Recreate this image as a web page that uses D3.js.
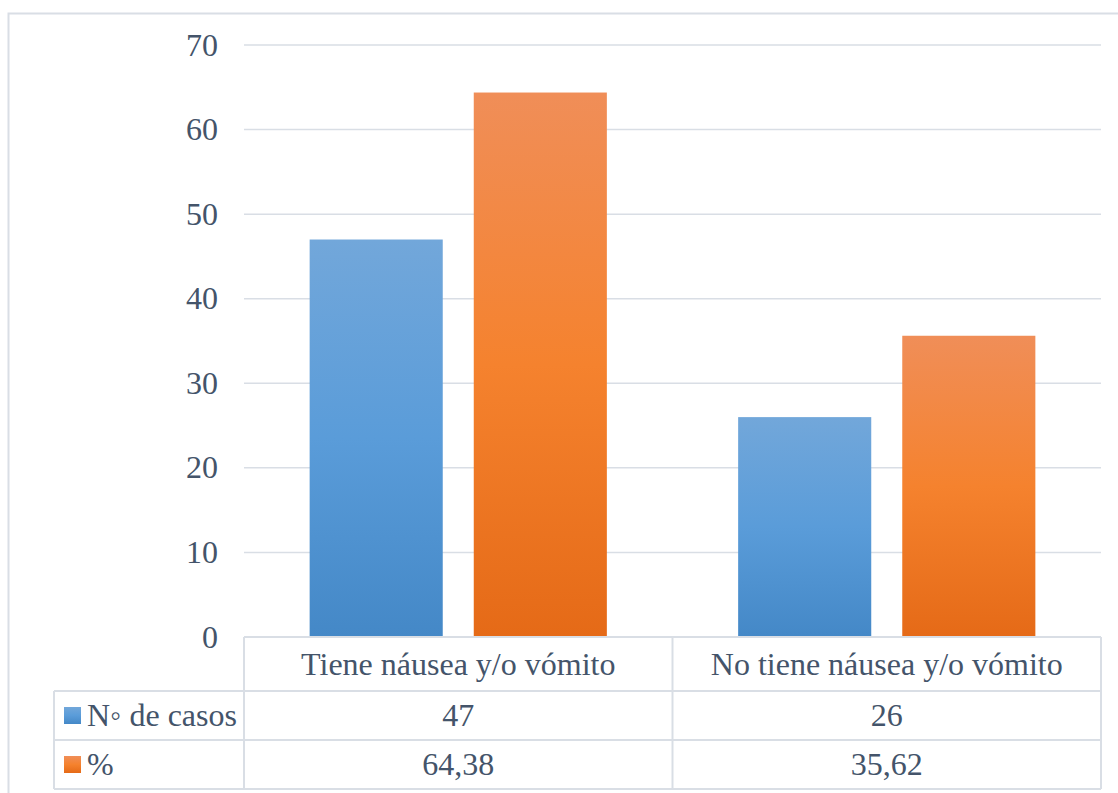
<!DOCTYPE html>
<html><head><meta charset="utf-8">
<script src="https://cdn.jsdelivr.net/npm/d3@7"></script>
<style>html,body{margin:0;padding:0;background:#fff;} svg{display:block;}</style>
</head><body>
<script>
const categories = ["Tiene náusea y/o vómito", "No tiene náusea y/o vómito"];
const seriesNames = ["N◦ de casos", "%"];
const casos = [47, 26];
const porcentaje = [64.38, 35.62];
const tableLabels = [["47", "26"], ["64,38", "35,62"]];
const yTicks = [0, 10, 20, 30, 40, 50, 60, 70];

(function () {
const W = 1118, H = 793;
const svg = d3.select("body").append("svg").attr("width", W).attr("height", H);
const defs = svg.append("defs");
function grad(id, stops) {
  const g = defs.append("linearGradient").attr("id", id).attr("x1", 0).attr("y1", 0).attr("x2", 0).attr("y2", 1);
  stops.forEach(s => g.append("stop").attr("offset", s[0]).attr("stop-color", s[1]));
}
grad("gBlue", [[0, "#72a7da"], [0.5, "#5a9cd9"], [1, "#4488c7"]]);
grad("gOrange", [[0, "#f08e58"], [0.5, "#f5822e"], [1, "#e56a17"]]);
const fills = ["url(#gBlue)", "url(#gOrange)"];

const textColor = "#44546a";
const lineColor = "#d9dee5";
const fs = 32;
const ff = '"Liberation Serif", "Times New Roman", serif';

svg.append("rect").attr("x", 8.5).attr("y", 13.5).attr("width", 1130).attr("height", 800)
  .attr("fill", "none").attr("stroke", lineColor).attr("stroke-width", 2);

const pLeft = 244, pRight = 1101, pTop = 45, pBottom = 637;
const x = d3.scaleBand().domain(categories).range([pLeft, pRight]).paddingInner(0).paddingOuter(0);
const y = d3.scaleLinear().domain([0, 70]).range([pBottom, pTop]);
const xs = d3.scaleBand().domain([0, 1]).range([0, x.bandwidth()]).paddingInner(0.189).paddingOuter(0.40);

svg.append("g").selectAll("line").data(yTicks.filter(d => d > 0)).join("line")
  .attr("x1", pLeft).attr("x2", pRight).attr("y1", d => y(d)).attr("y2", d => y(d))
  .attr("stroke", lineColor).attr("stroke-width", 1.5);

svg.append("g").selectAll("text").data(yTicks).join("text")
  .attr("x", 218).attr("y", d => y(d)).attr("dy", "0.33em").attr("text-anchor", "end")
  .style("font-family", ff).attr("font-size", fs).attr("fill", textColor).text(d => d);

const series = [casos, porcentaje];
series.forEach((vals, si) => {
  svg.append("g").selectAll("rect").data(categories).join("rect")
    .attr("x", (c) => x(c) + xs(si)).attr("width", xs.bandwidth())
    .attr("y", (c, i) => y(vals[i])).attr("height", (c, i) => y(0) - y(vals[i]))
    .attr("fill", fills[si]);
});

const rowY = [637, 691, 740, 789];
const legendLeft = 54;
const tg = svg.append("g").attr("stroke", lineColor).attr("stroke-width", 2).attr("fill", "none");
tg.append("line").attr("x1", pLeft).attr("x2", pRight).attr("y1", rowY[0]).attr("y2", rowY[0]);
for (let r = 1; r < rowY.length; r++) {
  tg.append("line").attr("x1", legendLeft).attr("x2", pRight).attr("y1", rowY[r]).attr("y2", rowY[r]);
}
tg.append("line").attr("x1", legendLeft).attr("x2", legendLeft).attr("y1", rowY[1]).attr("y2", rowY[3]);
[pLeft, pLeft + x.bandwidth(), pRight].forEach(xx => {
  tg.append("line").attr("x1", xx).attr("x2", xx).attr("y1", rowY[0]).attr("y2", rowY[3]);
});

svg.append("g").selectAll("text").data(categories).join("text")
  .attr("x", c => x(c) + x.bandwidth() / 2).attr("y", (rowY[0] + rowY[1]) / 2).attr("dy", "0.33em")
  .attr("text-anchor", "middle").style("font-family", ff).attr("font-size", fs).attr("fill", textColor)
  .text(c => c);

seriesNames.forEach((name, si) => {
  const cy = (rowY[si + 1] + rowY[si + 2]) / 2;
  svg.append("rect").attr("x", 64).attr("y", cy - 8.5).attr("width", 17).attr("height", 17).attr("fill", fills[si]);
  svg.append("text").attr("x", 87).attr("y", cy).attr("dy", "0.33em")
    .style("font-family", ff).attr("font-size", fs).attr("fill", textColor).text(name);
  svg.append("g").selectAll("text").data(categories).join("text")
    .attr("x", c => x(c) + x.bandwidth() / 2).attr("y", cy).attr("dy", "0.33em")
    .attr("text-anchor", "middle").style("font-family", ff).attr("font-size", fs).attr("fill", textColor)
    .text((c, i) => tableLabels[si][i]);
});
})();
</script>
</body></html>
